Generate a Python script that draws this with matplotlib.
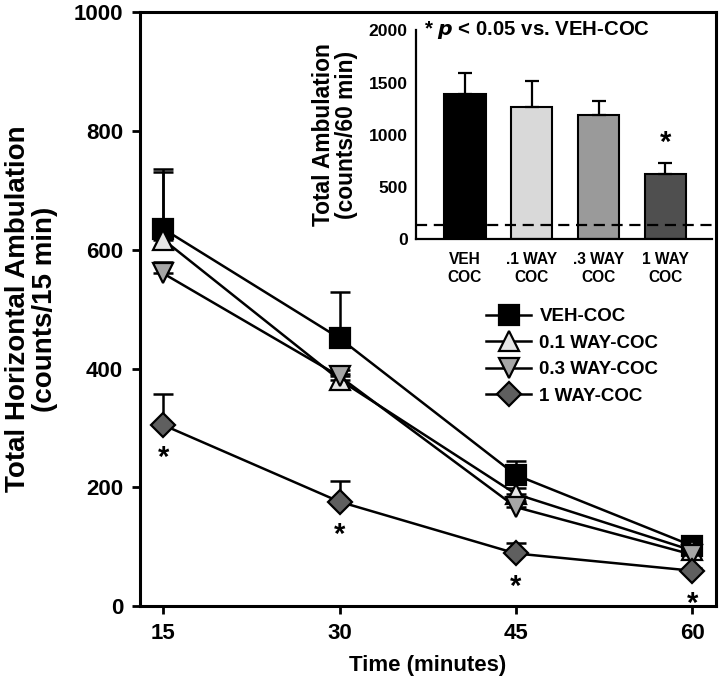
import matplotlib
matplotlib.use("Agg")
import matplotlib.pyplot as plt

plt.rcParams["font.family"] = ["Liberation Sans", "DejaVu Sans"]
plt.rcParams["font.weight"] = "bold"

# time course (counts / 15 min)
minutes = [15, 30, 45, 60]
veh_coc = [635, 451, 221, 102]
veh_coc_err = [100, 77, 24, 8]
way01_coc = [617, 381, 189, 94]
way01_coc_err = [113, 10, 10, 5]
way03_coc = [560, 387, 167, 87]
way03_coc_err = [20, 10, 10, 5]
way1_coc = [305, 176, 89, 60]
way1_coc_err = [52, 35, 18, 5]
sig_points = [15, 30, 45, 60]  # 1 WAY-COC different from VEH-COC

# inset totals (counts / 60 min)
bar_labels = ["VEH\nCOC", ".1 WAY\nCOC", ".3 WAY\nCOC", "1 WAY\nCOC"]
bar_totals = [1395, 1262, 1185, 622]
bar_err = [193, 255, 140, 109]
baseline = 131

series = [
    ("VEH-COC", veh_coc, veh_coc_err, "s", "black", 14),
    ("0.1 WAY-COC", way01_coc, way01_coc_err, "^", "#e6e6e6", 14),
    ("0.3 WAY-COC", way03_coc, way03_coc_err, "v", "#a6a6a6", 14),
    ("1 WAY-COC", way1_coc, way1_coc_err, "D", "#5f5f5f", 12.5),
]

fig = plt.figure(figsize=(7.2, 6.93), dpi=100)
ax = fig.add_axes([0.194, 0.125, 0.8, 0.858])

for i, (name, vals, err, mk, col, ms) in enumerate(series):
    ax.errorbar(minutes, vals, yerr=[[0] * len(err), err], fmt="none",
                ecolor="black", elinewidth=1.8, capsize=7, capthick=1.8,
                zorder=2 + i)
    ax.plot(minutes, vals, color="black", lw=1.8, marker=mk, markersize=ms,
            markerfacecolor=col, markeredgecolor="black", markeredgewidth=1.6,
            label=name, zorder=3 + i)

for t in sig_points:
    y = way1_coc[minutes.index(t)]
    ax.annotate("*", (t, y), xytext=(0, -34), textcoords="offset points",
                ha="center", va="bottom", fontsize=21, fontweight="bold")

ax.set_xlim(13, 62)
ax.set_ylim(0, 1000)
ax.set_xticks(minutes)
ax.set_yticks([0, 200, 400, 600, 800, 1000])
ax.tick_params(axis="both", labelsize=16, width=2, length=6, pad=6)
for s in ax.spines.values():
    s.set_linewidth(2.2)
ax.set_xlabel("Time (minutes)", fontsize=16, fontweight="bold", labelpad=8)
ax.set_ylabel("Total Horizontal Ambulation\n(counts/15 min)", fontsize=20,
              fontweight="bold", linespacing=1.05, labelpad=11)

leg = ax.legend(loc="upper left", bbox_to_anchor=(0.585, 0.517), frameon=False,
                fontsize=13.5, handlelength=2.4, handletextpad=0.45,
                labelspacing=0.5, borderpad=0)

# inset bar chart
ins = fig.add_axes([0.578, 0.655, 0.411, 0.301])
xpos = range(len(bar_totals))
ins.bar(xpos, bar_totals, width=0.62, color=["black", "#d9d9d9", "#9a9a9a", "#4f4f4f"],
        edgecolor="black", linewidth=1.5, zorder=2)
ins.errorbar(xpos, bar_totals, yerr=[[0] * 4, bar_err], fmt="none", ecolor="black",
             elinewidth=1.6, capsize=5, capthick=1.6, zorder=3)
ins.axhline(baseline, color="black", lw=1.6, ls=(0, (5, 3)), zorder=4)
ins.text(3, bar_totals[3] + bar_err[3] + 60, "*", ha="center", va="bottom",
         fontsize=21, fontweight="bold")
ins.text(0.027, 1.0, "* $\\boldsymbol{p}$ < 0.05 vs. VEH-COC", transform=ins.transAxes,
         ha="left", va="center", fontsize=14.7, fontweight="bold")
ins.set_xlim(-0.73, 3.7)
ins.set_ylim(0, 2000)
ins.set_xticks(list(xpos))
ins.set_xticklabels(bar_labels, fontsize=11.2, linespacing=1.3)
ins.set_yticks([0, 500, 1000, 1500, 2000])
ins.tick_params(axis="y", labelsize=12.6, length=0, pad=6)
ins.tick_params(axis="x", length=0, pad=9)
ins.spines["top"].set_visible(False)
ins.spines["right"].set_visible(False)
ins.spines["left"].set_linewidth(1.6)
ins.spines["bottom"].set_linewidth(1.6)
ins.set_ylabel("Total Ambulation\n(counts/60 min)", fontsize=16.4, fontweight="bold",
               linespacing=1.0, labelpad=8)
ins.patch.set_alpha(0)

fig.savefig("out.png", dpi=100)
